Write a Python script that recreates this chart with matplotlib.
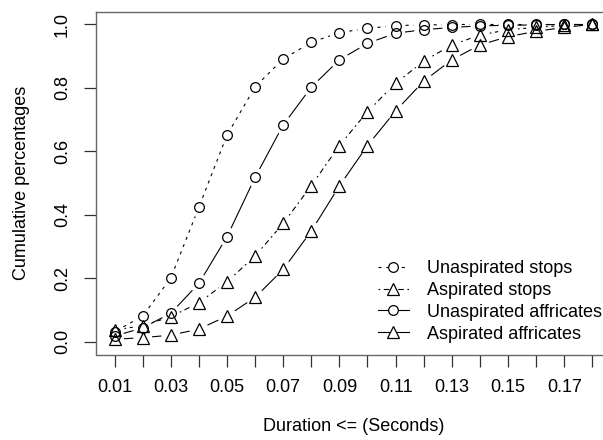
import numpy as np
import matplotlib
matplotlib.use("Agg")
import matplotlib.pyplot as plt
from matplotlib.lines import Line2D

plt.rcParams['font.family'] = ['Liberation Sans', 'DejaVu Sans']
plt.rcParams['lines.scale_dashes'] = False

# Durations (seconds) and cumulative proportions
durations = [0.01, 0.02, 0.03, 0.04, 0.05, 0.06, 0.07, 0.08, 0.09,
             0.10, 0.11, 0.12, 0.13, 0.14, 0.15, 0.16, 0.17, 0.18]
unasp_stops = [0.032, 0.081, 0.201, 0.424, 0.651, 0.803, 0.891, 0.943, 0.974,
               0.987, 0.996, 0.998, 0.999, 1.0, 1.0, 1.0, 1.0, 1.0]
asp_stops = [0.037, 0.051, 0.079, 0.123, 0.189, 0.270, 0.373, 0.492, 0.618,
             0.725, 0.814, 0.884, 0.935, 0.966, 0.983, 0.990, 0.997, 1.0]
unasp_affr = [0.018, 0.044, 0.090, 0.184, 0.331, 0.518, 0.683, 0.802, 0.888,
              0.940, 0.972, 0.983, 0.990, 0.995, 0.997, 0.998, 1.0, 1.0]
asp_affr = [0.008, 0.013, 0.021, 0.040, 0.081, 0.140, 0.228, 0.349, 0.491,
            0.618, 0.727, 0.821, 0.888, 0.935, 0.961, 0.978, 0.990, 1.0]

series_names = ['Unaspirated stops', 'Aspirated stops',
                'Unaspirated affricates', 'Aspirated affricates']
x_tick_labels = ['0.01', '', '0.03', '', '0.05', '', '0.07', '', '0.09', '',
                 '0.11', '', '0.13', '', '0.15', '', '0.17', '']
y_ticks = [0.0, 0.2, 0.4, 0.6, 0.8, 1.0]

dotted = (0, (2.2, 3.4))
dotdash = (0, (1.2, 2.6, 4.0, 2.6))
styles = [('o', dotted), ('^', dotdash), ('o', '-'), ('^', '-')]
all_series = [unasp_stops, asp_stops, unasp_affr, asp_affr]

fig = plt.figure(figsize=(6.03, 4.40), dpi=100)
ax = fig.add_axes([95.5 / 603, 1 - 354.5 / 440, (611.4 - 95.5) / 603, (354.5 - 11.6) / 440])
ax.set_xlim(0.0032, 0.1868)
ax.set_ylim(-0.04, 1.04)


def draw_gapped(ax, x, y, ls, gap=10.0):
    """ Draw segments between points, leaving a gap around each point
    like R's type='b'. """
    pts = ax.transData.transform(np.column_stack([x, y]))
    inv = ax.transData.inverted()
    for p0, p1 in zip(pts[:-1], pts[1:]):
        d = p1 - p0
        L = np.hypot(*d)
        if L <= 2 * gap:
            continue
        u = d / L
        a, b = inv.transform(np.array([p0 + u * gap, p1 - u * gap]))
        ax.plot([a[0], b[0]], [a[1], b[1]], color='black', lw=0.8, ls=ls)


handles = []
for vals, (mk, ls), name in zip(all_series, styles, series_names):
    draw_gapped(ax, durations, vals, ls)
    ms = 7 if mk == 'o' else 8.5
    ax.plot(durations, vals, ls='none', marker=mk, ms=ms, mfc='none',
            mec='black', mew=0.9)
    handles.append(Line2D([], [], color='black', lw=0.8, ls=ls, marker=mk,
                          ms=ms, mfc='white', mec='black', mew=0.9))

ax.set_xticks(durations)
ax.set_xticklabels(x_tick_labels)
ax.set_yticks(y_ticks)
ax.set_yticklabels(['%.1f' % v for v in y_ticks], rotation=90, va='center')
ax.tick_params(axis='both', length=8.6, width=0.9, color='#333333',
               labelsize=13, pad=9)
for s in ax.spines.values():
    s.set_color('#666666')
    s.set_linewidth(1.0)

ax.set_xlabel('Duration <= (Seconds)', fontsize=13, labelpad=16)
ax.set_ylabel('Cumulative percentages', fontsize=13, labelpad=17)

ax.legend(handles, series_names, loc='upper left',
          bbox_to_anchor=(0.5476, 0.2756), frameon=False, fontsize=13,
          borderpad=0, borderaxespad=0, handlelength=1.7, handletextpad=1.0,
          labelspacing=0.27)

fig.savefig('out.png', dpi=100)
